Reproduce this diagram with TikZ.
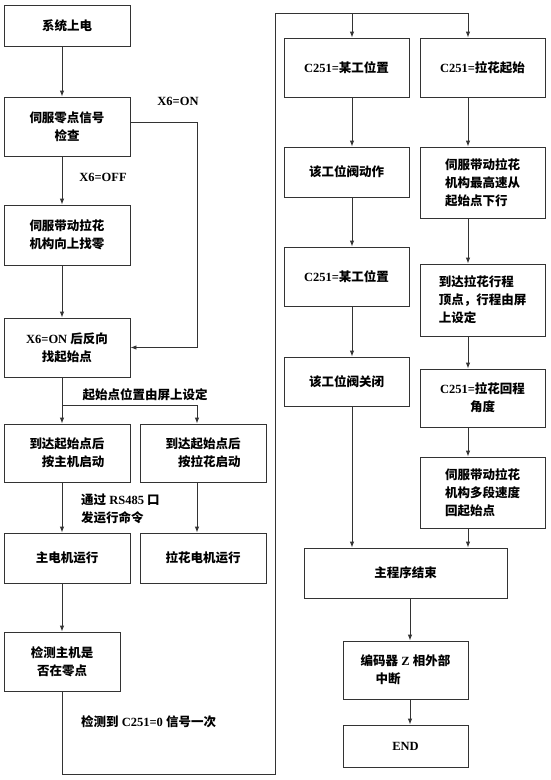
\documentclass[tikz,border=0pt]{standalone}
\usepackage{fontspec}
\setmainfont{Liberation Serif}
\newfontfamily\cjk{Noto Sans CJK SC}
\newcommand{\zh}[1]{{\cjk #1}}
\usetikzlibrary{arrows.meta}
\begin{document}
\begin{tikzpicture}[x=1pt,y=-1pt,
  box/.style={draw=black!80, line width=0.9pt, rectangle, inner sep=2pt, font=\bfseries\fontsize{12.5}{18}\selectfont, align=center},
  wh/.style 2 args={minimum width=#1pt, minimum height=#2pt},
  lbl/.style={font=\bfseries\fontsize{12.5}{18}\selectfont, inner sep=0pt},
  line/.style={draw=black!80, line width=0.9pt},
  arr/.style={line, -{Latex[length=6pt,width=4.5pt]}}]
\useasboundingbox (0,0) rectangle (550,780);
\fill[white] (0,0) rectangle (550,780);
% left column
\node[box, wh={126}{41}] (L1) at (67,25.5) {\zh{系统上电}};
\node[box, wh={126}{59}] (L2) at (67,126.5) {\zh{伺服零点信号}\\\zh{检查}};
\node[box, wh={126}{60}] (L3) at (67,235) {\zh{伺服带动拉花}\\\zh{机构向上找零}};
\node[box, wh={126}{59}] (L4) at (67,347.5) {X6=ON \zh{后反向}\\\zh{找起始点}};
\node[box, wh={126}{58}, align=right] (L5) at (67,453) {\zh{到达起始点后}\\\zh{按主机启动}};
\node[box, wh={126}{58}, align=right] (L6) at (203,453) {\zh{到达起始点后}\\\zh{按拉花启动}};
\node[box, wh={126}{50}] (L7) at (67,558) {\zh{主电机运行}};
\node[box, wh={126}{50}] (L8) at (203,558) {\zh{拉花电机运行}};
\node[box, wh={116}{59}] (L9) at (62,661.5) {\zh{检测主机是}\\\zh{否在零点}};
% right column
\node[box, wh={125}{59}] (R1) at (346.5,67.5) {C251=\zh{某工位置}};
\node[box, wh={125}{59}] (R2) at (482.5,67.5) {C251=\zh{拉花起始}};
\node[box, wh={125}{50}] (R3) at (346.5,172) {\zh{该工位阀动作}};
\node[box, wh={125}{71}, align=left] (R4) at (482.5,182.5) {\zh{伺服带动拉花}\\\zh{机构最高速从}\\\zh{起始点下行}};
\node[box, wh={125}{59}] (R5) at (346.5,276.5) {C251=\zh{某工位置}};
\node[box, wh={125}{72}, align=left] (R6) at (482.5,300) {\zh{到达拉花行程}\\\zh{顶点，行程由屏}\\\zh{上设定}};
\node[box, wh={125}{49}] (R7) at (346.5,381.5) {\zh{该工位阀关闭}};
\node[box, wh={125}{58}] (R8) at (482.5,398) {C251=\zh{拉花回程}\\\zh{角度}};
\node[box, wh={125}{71}, align=left] (R9) at (482.5,492.5) {\zh{伺服带动拉花}\\\zh{机构多段速度}\\\zh{回起始点}};
\node[box, wh={203}{50}] (R10) at (405.5,573) {\zh{主程序结束}};
\node[box, wh={125}{58}, align=left] (R11) at (405.5,670) {\zh{编码器} Z \zh{相外部}\\\hspace{1.2em}\zh{中断}};
\node[box, wh={125}{42}] (R12) at (405.5,746) {END};
% labels
\node[lbl] (t1) at (178,101) {X6=ON};
\node[lbl] (t2) at (103,177) {X6=OFF};
\node[lbl] (t3) at (145,395) {\zh{起始点位置由屏上设定}};
\node[lbl, align=left, anchor=west] (t4) at (81,509) {\zh{通过} RS485 \zh{口}\\\zh{发运行命令}};
\node[lbl, anchor=west] (t5) at (81,722) {\zh{检测到} C251=0 \zh{信号一次}};
% guide coordinates
\coordinate (xa) at (62,0);
\coordinate (xb) at (197,0);
\coordinate (xc) at (352,0);
\coordinate (xd) at (468,0);
\coordinate (xe) at (410,0);
\coordinate (sp) at (62,405);
\coordinate (lb) at (62,774);
\coordinate (rb) at (275,774);
\coordinate (rt) at (275,13);
% left connectors
\draw[arr] (L1.south -| xa) -- (L2.north -| xa);
\draw[arr] (L2.south -| xa) -- (L3.north -| xa);
\draw[arr] (L3.south -| xa) -- (L4.north -| xa);
\draw[arr] ([yshift=4.5pt]L2.east) -| (xb |- L4.east) -- (L4.east);
\draw[line] (L4.south -| xa) -- (sp);
\draw[arr] (sp) -- (L5.north -| xa);
\draw[arr] (sp) -| (L6.north -| xb);
\draw[arr] (L5.south -| xa) -- (L7.north -| xa);
\draw[arr] (L6.south -| xb) -- (L8.north -| xb);
\draw[arr] (L7.south -| xa) -- (L9.north -| xa);
\draw[arr] (L9.south) -- (lb) -- (rb) -- (rt) -| (R2.north -| xd);
\draw[arr] (xc |- rt) -- (R1.north -| xc);
% right connectors
\draw[arr] (R1.south -| xc) -- (R3.north -| xc);
\draw[arr] (R3.south -| xc) -- (R5.north -| xc);
\draw[arr] (R5.south -| xc) -- (R7.north -| xc);
\draw[arr] (R7.south -| xc) -- (R10.north -| xc);
\draw[arr] (R2.south -| xd) -- (R4.north -| xd);
\draw[arr] (R4.south -| xd) -- (R6.north -| xd);
\draw[arr] (R6.south -| xd) -- (R8.north -| xd);
\draw[arr] (R8.south -| xd) -- (R9.north -| xd);
\draw[arr] (R9.south -| xd) -- (R10.north -| xd);
\draw[arr] (R10.south -| xe) -- (R11.north -| xe);
\draw[arr] (R11.south -| xe) -- (R12.north -| xe);
\end{tikzpicture}
\end{document}
